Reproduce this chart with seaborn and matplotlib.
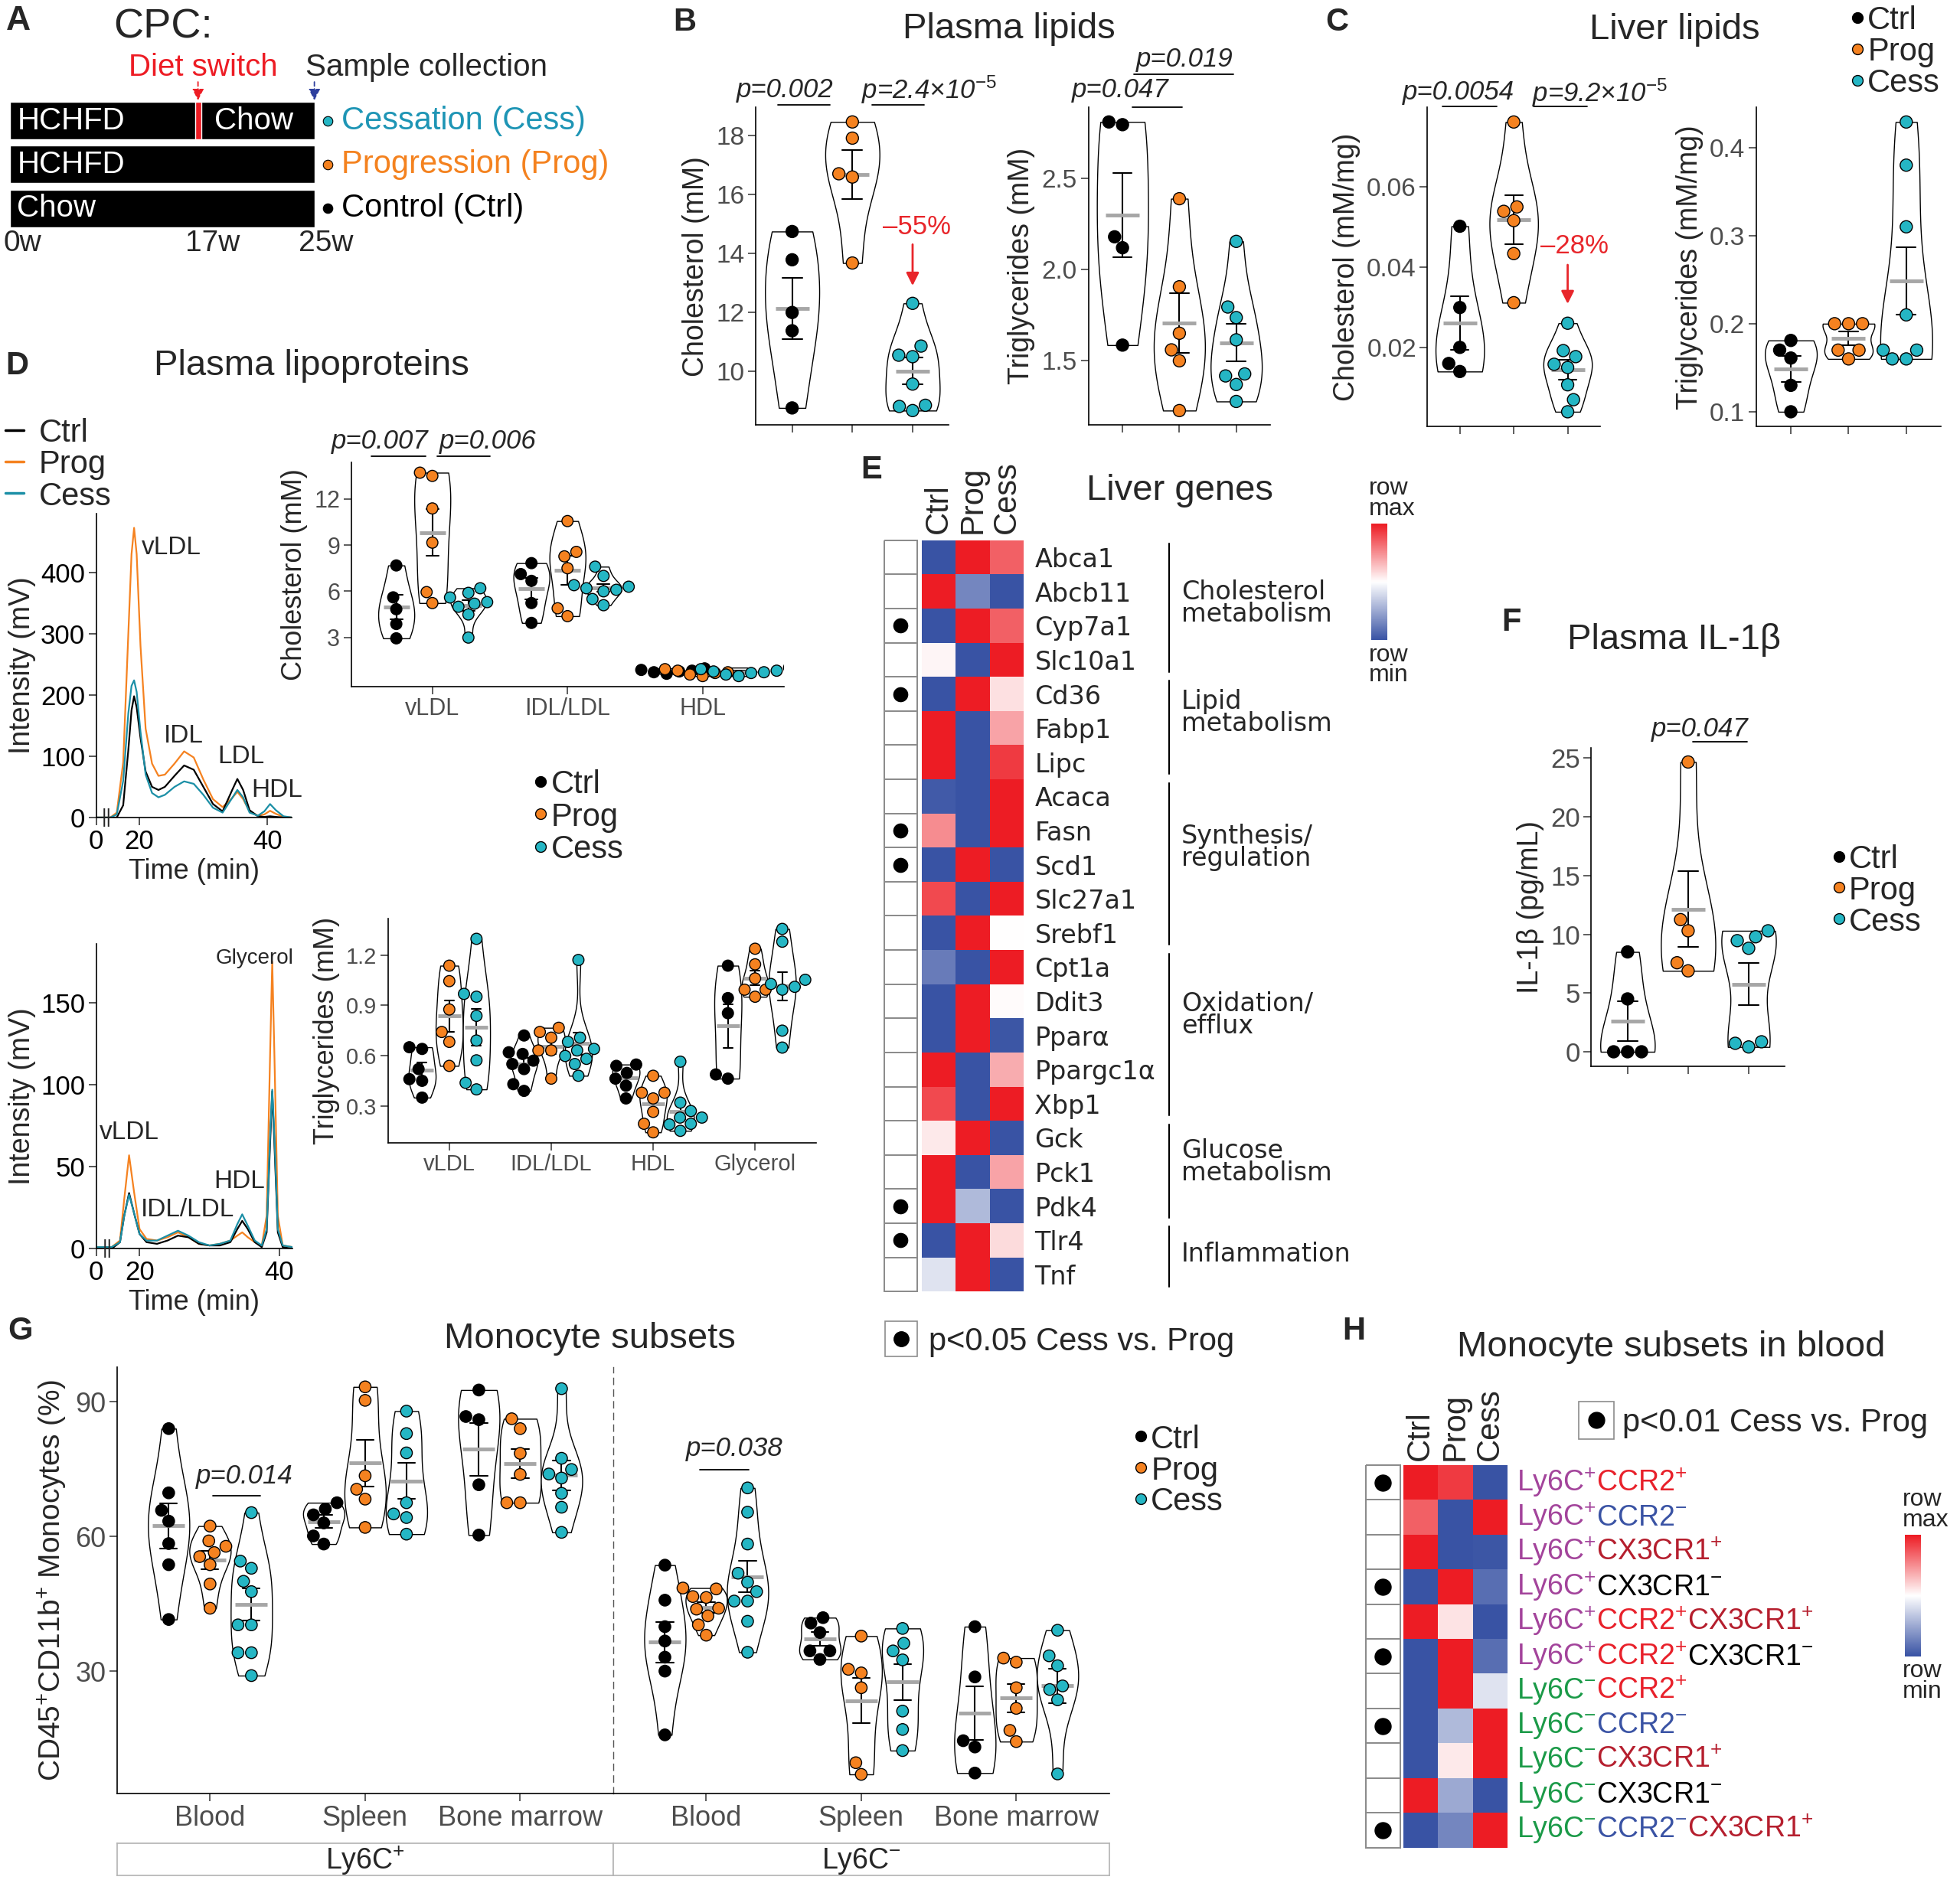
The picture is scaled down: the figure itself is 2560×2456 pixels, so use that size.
import warnings
import numpy as np
import pandas as pd
import seaborn as sns
import matplotlib
matplotlib.use("Agg")
from matplotlib import pyplot as plt
from matplotlib.colors import LinearSegmentedColormap, ListedColormap
from matplotlib.lines import Line2D
from matplotlib.patches import Rectangle
from matplotlib.offsetbox import TextArea, HPacker, AnnotationBbox
import matplotlib.transforms as mtransforms

warnings.filterwarnings("ignore")

### DATA

groups = ["Ctrl", "Prog", "Cess"]
group_colors = ["#000000", "#F58220", "#25B6C4"]
line_colors = {"Ctrl": "#000000", "Prog": "#F58220", "Cess": "#1B8FA6"}

# A - study design
a_rows = ["Cessation (Cess)", "Progression (Prog)", "Control (Ctrl)"]
a_text_colors = ["#1E95B5", "#F4821F", "#000000"]
a_dot_colors = ["#25B6C4", "#F58220", "#000000"]
a_diet_first = ["HCHFD", "HCHFD", "Chow"]
a_diet_second = ["Chow", "", ""]
a_bar_weeks = [25, 25, 25]
a_switch_week = 15.45
a_week_labels = ["0w", "17w", "25w"]
a_week_label_pos = [-0.5, 14.4, 23.7]

# B - plasma lipids
b_chol_ctrl = [14.74, 13.78, 11.99, 11.37, 8.75]
b_chol_prog = [18.46, 17.91, 16.59, 16.70, 13.67]
b_chol_cess = [12.30, 10.85, 10.54, 10.49, 9.56, 8.80, 8.84, 8.66]
b_tg_ctrl = [2.795, 2.81, 2.18, 2.12, 1.586]
b_tg_prog = [2.389, 1.906, 1.651, 1.560, 1.50, 1.227]
b_tg_cess = [2.155, 1.795, 1.737, 1.615, 1.428, 1.417, 1.37, 1.277]

# C - liver lipids
c_chol_ctrl = [0.0502, 0.0300, 0.0201, 0.0161, 0.0141]
c_chol_prog = [0.0761, 0.0550, 0.0539, 0.0516, 0.0434, 0.0312]
c_chol_cess = [0.0261, 0.0193, 0.0178, 0.0159, 0.0151, 0.0108, 0.0071, 0.0041]
c_tg_ctrl = [0.181, 0.170, 0.161, 0.130, 0.100]
c_tg_prog = [0.200, 0.200, 0.200, 0.170, 0.170, 0.160]
c_tg_cess = [0.429, 0.380, 0.310, 0.210, 0.170, 0.170, 0.160, 0.160]

# D - lipoprotein profiles (FPLC)
d_chol_time = [13.3, 15.5, 16.5, 17.5, 18.3, 18.8, 19.2, 19.6, 20.2, 21.0, 22.0, 23.0, 24.0, 25.5, 27.0,
               28.5, 30.0, 31.5, 33.0, 34.5, 35.3, 36.2, 37.2, 38.5, 39.5, 40.4, 41.3, 42.5, 43.8]
d_chol_trace_ctrl = [0, 0, 0, 20, 110, 175, 198, 180, 130, 75, 50, 45, 50, 68, 85,
                     78, 50, 22, 10, 45, 63, 45, 12, 2, 1, 2, 1, 0, 0]
d_chol_trace_prog = [0, 0, 8, 90, 300, 430, 473, 430, 280, 145, 88, 68, 70, 88, 108,
                     98, 62, 30, 17, 32, 42, 30, 10, 3, 5, 11, 6, 1, 0]
d_chol_trace_cess = [0, 0, 5, 60, 170, 215, 224, 205, 140, 70, 40, 33, 37, 50, 59,
                     55, 37, 16, 8, 32, 45, 33, 8, 3, 10, 22, 12, 2, 0]
d_tg_time = [13.8, 16.0, 17.2, 17.8, 18.5, 19.2, 20.0, 21.0, 22.5, 24.0, 25.5, 27.0, 28.5, 30.0,
             31.5, 33.0, 34.0, 34.7, 35.5, 36.5, 37.5, 38.2, 38.7, 39.0, 39.3, 39.8, 40.5, 41.9]
d_tg_trace_ctrl = [0, 0, 4, 20, 34, 22, 9, 4, 3, 5, 8, 7, 3, 2, 2, 4, 12, 17, 12, 4, 1, 10, 65, 96, 65, 10, 1, 0]
d_tg_trace_prog = [1, 1, 5, 30, 57, 35, 12, 6, 5, 7, 10, 7, 3, 2, 3, 5, 8, 10, 7, 4, 2, 20, 120, 175, 120, 20, 2, 1]
d_tg_trace_cess = [1, 1, 4, 20, 33, 22, 9, 5, 5, 8, 11, 8, 4, 2, 3, 5, 15, 21, 14, 5, 2, 12, 70, 97, 70, 12, 2, 1]

d_chol_fractions = ["vLDL", "IDL/LDL", "HDL"]
d_chol_vldl = {"Ctrl": [7.68, 5.61, 4.84, 3.88, 2.95],
               "Prog": [13.7, 13.49, 11.38, 9.16, 5.95, 5.24],
               "Cess": [6.2, 5.9, 5.6, 5.3, 5.2, 5.0, 4.5, 3.0]}
d_chol_idl = {"Ctrl": [7.83, 7.12, 6.68, 5.24, 3.95],
              "Prog": [10.56, 8.27, 8.56, 7.5, 4.9, 4.39],
              "Cess": [7.6, 7.0, 6.4, 6.3, 6.2, 6.1, 6.0, 5.5, 5.1]}
d_chol_hdl = {"Ctrl": [1.0, 0.9, 0.85, 0.8, 0.75, 0.65],
              "Prog": [0.95, 0.85, 0.75, 0.7, 0.6, 0.5],
              "Cess": [1.05, 0.95, 0.85, 0.8, 0.75, 0.7, 0.6, 0.5]}

d_tg_fractions = ["vLDL", "IDL/LDL", "HDL", "Glycerol"]
d_tg_vldl = {"Ctrl": [0.64, 0.65, 0.52, 0.46, 0.45, 0.35],
             "Prog": [1.136, 1.044, 0.875, 0.682, 0.741, 0.539],
             "Cess": [1.296, 0.951, 0.968, 0.837, 0.69, 0.572, 0.438, 0.399]}
d_tg_idl = {"Ctrl": [0.72, 0.62, 0.61, 0.57, 0.55, 0.52, 0.43, 0.39],
            "Prog": [0.766, 0.741, 0.707, 0.631, 0.631, 0.463],
            "Cess": [1.17, 0.707, 0.682, 0.64, 0.631, 0.598, 0.581, 0.55, 0.48]}
d_tg_hdl = {"Ctrl": [0.539, 0.547, 0.497, 0.463, 0.421, 0.345],
            "Prog": [0.48, 0.379, 0.379, 0.345, 0.265, 0.194, 0.143],
            "Cess": [0.564, 0.32, 0.27, 0.231, 0.231, 0.194, 0.19, 0.152]}
d_tg_glycerol = {"Ctrl": [1.136, 0.943, 0.853, 0.488, 0.463],
                 "Prog": [1.237, 1.144, 1.06, 0.993, 0.993, 0.951],
                 "Cess": [1.355, 1.279, 1.027, 1.052, 1.01, 0.993, 0.749, 0.648]}

# E - liver genes (row scaled, 0 = row min, 1 = row max)
e_genes = ["Abca1", "Abcb11", "Cyp7a1", "Slc10a1", "Cd36", "Fabp1", "Lipc", "Acaca", "Fasn", "Scd1",
           "Slc27a1", "Srebf1", "Cpt1a", "Ddit3", "Pparα", "Ppargc1α", "Xbp1", "Gck", "Pck1", "Pdk4",
           "Tlr4", "Tnf"]
e_ctrl = [0.0, 1.0, 0.0, 0.52, 0.0, 1.0, 1.0, 0.02, 0.75, 0.0, 0.9, 0.0, 0.12, 0.0, 0.0, 1.0, 0.9,
          0.55, 1.0, 1.0, 0.0, 0.42]
e_prog = [1.0, 0.15, 1.0, 0.0, 1.0, 0.0, 0.0, 0.0, 0.0, 1.0, 0.0, 1.0, 0.0, 1.0, 1.0, 0.0, 0.0,
          1.0, 0.0, 0.3, 1.0, 1.0]
e_cess = [0.85, 0.0, 0.85, 1.0, 0.57, 0.7, 0.93, 1.0, 1.0, 0.0, 1.0, 0.5, 1.0, 0.51, 0.01, 0.68, 1.0,
          0.0, 0.7, 0.0, 0.58, 0.0]
e_sig = [0, 0, 1, 0, 1, 0, 0, 0, 1, 1, 0, 0, 0, 0, 0, 0, 0, 0, 0, 1, 1, 0]
e_group_names = ["Cholesterol\nmetabolism", "Lipid\nmetabolism", "Synthesis/\nregulation",
                 "Oxidation/\nefflux", "Glucose\nmetabolism", "Inflammation"]
e_group_first = [0, 4, 7, 12, 17, 20]
e_group_last = [3, 6, 11, 16, 19, 21]
e_group_label_row = [1.85, 5.05, 9.0, 13.9, 18.2, 20.9]

# F - plasma IL-1b
f_ctrl = [8.5, 4.5, 0.0, 0.0, 0.0]
f_prog = [24.67, 11.25, 10.3, 7.58, 6.89]
f_cess = [10.3, 9.79, 9.46, 8.81, 0.72, 0.41, 0.85]

# G - monocyte subsets
g_tissues = ["Blood", "Spleen", "Bone marrow"]
g_pos_blood = {"Ctrl": [84.0, 69.7, 65.8, 63.4, 58.4, 53.7, 41.5],
               "Prog": [62.3, 59.0, 57.8, 56.4, 55.5, 53.7, 49.4, 44.0],
               "Cess": [65.3, 54.5, 52.9, 50.0, 47.7, 40.3, 40.3, 34.1, 34.1, 29.0]}
g_pos_spleen = {"Ctrl": [67.5, 66.1, 64.8, 63.0, 60.1, 58.3],
                "Prog": [93.3, 90.3, 73.5, 70.5, 68.3, 62.0],
                "Cess": [87.9, 82.9, 78.6, 67.5, 64.2, 65.0, 60.5]}
g_pos_bm = {"Ctrl": [92.6, 86.7, 86.0, 71.5, 60.3],
            "Prog": [86.2, 84.0, 78.5, 73.8, 67.5, 67.5],
            "Cess": [92.9, 77.4, 74.9, 73.0, 73.9, 69.6, 66.5, 60.9]}
g_neg_blood = {"Ctrl": [53.6, 45.8, 39.9, 36.7, 33.1, 30.0, 15.8],
               "Prog": [48.5, 48.3, 46.6, 46.4, 44.0, 43.8, 42.3, 40.3, 38.0],
               "Cess": [70.8, 65.4, 58.3, 51.8, 49.8, 47.7, 45.6, 45.6, 41.1, 34.2]}
g_neg_spleen = {"Ctrl": [41.9, 40.7, 38.6, 34.5, 34.5, 32.6],
                "Prog": [37.8, 30.4, 29.6, 26.3, 9.6, 7.0],
                "Cess": [39.5, 36.2, 34.5, 32.5, 21.1, 17.0, 12.3]}
g_neg_bm = {"Ctrl": [39.9, 28.7, 14.5, 13.1, 7.3],
            "Prog": [32.9, 32.0, 26.3, 21.7, 16.8, 14.3],
            "Cess": [39.1, 33.4, 31.2, 26.7, 25.9, 23.6, 7.1]}

# H - monocyte subsets in blood (row scaled)
h_ctrl = [1.0, 0.85, 1.0, 0.0, 1.0, 0.0, 0.0, 0.0, 0.0, 1.0, 0.0]
h_prog = [0.93, 0.0, 0.0, 1.0, 0.56, 1.0, 1.0, 0.3, 0.55, 0.25, 0.15]
h_cess = [0.0, 1.0, 0.01, 0.08, 0.0, 0.08, 0.42, 1.0, 1.0, 0.0, 1.0]
h_sig = [1, 0, 0, 1, 0, 1, 0, 1, 0, 0, 1]
PUR, RED, BLU, DRD, BLK, GRN = "#A3449B", "#E8212B", "#3A53A4", "#B51F2E", "#000000", "#1B9A48"
h_labels = [
    [("Ly6C", "+", PUR), ("CCR2", "+", RED)],
    [("Ly6C", "+", PUR), ("CCR2", "-", BLU)],
    [("Ly6C", "+", PUR), ("CX3CR1", "+", DRD)],
    [("Ly6C", "+", PUR), ("CX3CR1", "-", BLK)],
    [("Ly6C", "+", PUR), ("CCR2", "+", RED), ("CX3CR1", "+", DRD)],
    [("Ly6C", "+", PUR), ("CCR2", "+", RED), ("CX3CR1", "-", BLK)],
    [("Ly6C", "-", GRN), ("CCR2", "+", RED)],
    [("Ly6C", "-", GRN), ("CCR2", "-", BLU)],
    [("Ly6C", "-", GRN), ("CX3CR1", "+", DRD)],
    [("Ly6C", "-", GRN), ("CX3CR1", "-", BLK)],
    [("Ly6C", "-", GRN), ("CCR2", "-", BLU), ("CX3CR1", "+", DRD)],
]

### STYLE

sns.set_style("ticks")
plt.rcParams["font.family"] = ["Liberation Sans", "DejaVu Sans"]
plt.rcParams["mathtext.fontset"] = "custom"
plt.rcParams["mathtext.rm"] = "Liberation Sans"
plt.rcParams["mathtext.it"] = "Liberation Sans:italic"
plt.rcParams["mathtext.bf"] = "Liberation Sans:bold"
plt.rcParams["axes.linewidth"] = 1.2
plt.rcParams["axes.edgecolor"] = "black"

heat_cmap = LinearSegmentedColormap.from_list("rowscale", ["#3953A4", "#FFFFFF", "#ED1C24"])
TICK_GRAY = "#4D4D4D"
MEAN_GRAY = "#A6A6A6"
WIDE = ["DejaVu Sans"]

W, H = 1568.0, 1504.0  # layout units of the reference
fig = plt.figure(figsize=(25.6, 24.56), dpi=100)


def box(x0, y0, x1, y1):
    return [x0 / W, 1 - y1 / H, (x1 - x0) / W, (y1 - y0) / H]


def ftext(x, y, s, **kw):
    kw.setdefault("ha", "center")
    kw.setdefault("va", "center")
    fig.text(x / W, 1 - y / H, s, **kw)


def underline(x0, x1, y):
    fig.add_artist(Line2D([x0 / W, x1 / W], [1 - y / H, 1 - y / H], color="black", lw=1.3))


def dot_legend(x, y0, step=25.5, size=10, fs=30):
    for i, (g, c) in enumerate(zip(groups, group_colors)):
        y = y0 + i * step
        fig.add_artist(Line2D([x / W], [1 - y / H], marker="o", markersize=size, markerfacecolor=c,
                              markeredgecolor="black", markeredgewidth=1, linestyle="none"))
        ftext(x + 8, y, g, ha="left", va="center_baseline", fontsize=fs)


def expand(vals, frac=0.05):
    lo, hi = min(vals), max(vals)
    return lo - frac * (hi - lo), hi + frac * (hi - lo)


def finish(ax, vals, ylabel, yticks, fmt, n, xlabels=None, tick_size=24, label_size=27):
    ax.set_ylim(*expand(vals))
    ax.set_xlim(-0.6, n - 0.4)
    ax.set_xticks(range(n), xlabels if xlabels else [""] * n)
    ax.set_yticks(yticks, [fmt.format(v) for v in yticks])
    ax.set_xlabel("")
    ax.set_ylabel(ylabel, fontsize=label_size, labelpad=6)
    ax.tick_params(labelsize=tick_size, labelcolor=TICK_GRAY, color="#333333", length=7, width=1.1)
    sns.despine(ax=ax)


def violin_simple(ax, vals, ylabel, yticks, fmt, cap=0.33, dot=11.5, mean_size=32):
    df = pd.DataFrame({"group": [g for g in groups for _ in vals[g]],
                       "value": [v for g in groups for v in vals[g]]})
    sns.violinplot(data=df, x="group", y="value", order=groups, color="white", saturation=1,
                   linecolor="black", linewidth=1.0, cut=0, inner=None, density_norm="width",
                   width=0.9, ax=ax)
    sns.swarmplot(data=df, x="group", y="value", hue="group", order=groups, hue_order=groups,
                  palette=group_colors, size=dot, edgecolor="black", linewidth=1, legend=False, ax=ax)
    sns.pointplot(data=df, x="group", y="value", order=groups, errorbar="se", capsize=cap,
                  color="black", marker="", linestyle="none",
                  err_kws={"linewidth": 1.5, "color": "black", "linestyle": "-"}, ax=ax)
    sns.pointplot(data=df, x="group", y="value", order=groups, errorbar=None, color=MEAN_GRAY,
                  marker="_", markersize=mean_size, markeredgewidth=3.5, linestyle="none", ax=ax)
    finish(ax, df["value"], ylabel, yticks, fmt, 3)


def grouped_frame(cats, tables):
    rows = [(c, g, v) for c, t in zip(cats, tables) for g in groups for v in t[g]]
    return pd.DataFrame(rows, columns=["cat", "group", "value"])


def violin_grouped(ax, df, cats, cap=0.11, dot=11.5, mean_size=26):
    sns.violinplot(data=df, x="cat", y="value", hue="group", order=cats, hue_order=groups,
                   palette=["white"] * 3, saturation=1, linecolor="black", linewidth=1.0, cut=0,
                   inner=None, density_norm="width", width=0.8, dodge=True, legend=False, ax=ax)
    sns.swarmplot(data=df, x="cat", y="value", hue="group", order=cats, hue_order=groups,
                  palette=group_colors, dodge=True, size=dot, edgecolor="black", linewidth=1,
                  legend=False, ax=ax)
    sns.pointplot(data=df, x="cat", y="value", hue="group", order=cats, hue_order=groups,
                  palette=["black"] * 3, dodge=0.5333, errorbar="se", capsize=cap, marker="",
                  linestyle="none", err_kws={"linewidth": 1.5, "color": "black", "linestyle": "-"},
                  legend=False, ax=ax)
    sns.pointplot(data=df, x="cat", y="value", hue="group", order=cats, hue_order=groups,
                  palette=[MEAN_GRAY] * 3, dodge=0.5333, errorbar=None, marker="_",
                  markersize=mean_size, markeredgewidth=3.5, linestyle="none", legend=False, ax=ax)


def trace_frame(time, ctrl, prog, cess):
    return pd.DataFrame({"time": list(time) * 3, "intensity": ctrl + prog + cess,
                         "group": ["Ctrl"] * len(time) + ["Prog"] * len(time) + ["Cess"] * len(time)})


### PANEL A

ftext(14.7, 17, "A", fontsize=32, weight="bold")
ftext(90.6, 21.5, "CPC:", ha="left", fontsize=39)
axA = fig.add_axes(box(7.8, 78.9, 251.5, 184.2))
sns.barplot(x=a_bar_weeks, y=a_rows, orient="h", color="black", saturation=1, width=0.855, ax=axA)
axA.barh(0, 0.5, left=a_switch_week - 0.25, height=0.855, color="#ED1C24")
axA.set_xlim(0, 25)
axA.set_ylim(2.5, -0.5)
axA.set_axis_off()
for i in range(3):
    axA.text(0.6, i, a_diet_first[i], color="white", va="center", fontsize=29)
    axA.text(16.8, i, a_diet_second[i], color="white", va="center", fontsize=29)
    axA.plot([26.1], [i], marker="o", markersize=9, markerfacecolor=a_dot_colors[i],
             markeredgecolor="black", markeredgewidth=0.8, clip_on=False)
    axA.text(27.2, i, a_rows[i], color=a_text_colors[i], va="center", fontsize=30, clip_on=False)
for lab, pos in zip(a_week_labels, a_week_label_pos):
    axA.text(pos, 2.8, lab, ha="left", va="center", fontsize=28, clip_on=False)
axA.text(15.9, -1.21, "Diet switch", color="#ED1C24", ha="center", va="center", fontsize=29)
axA.text(24.3, -1.21, "Sample collection", ha="left", va="center", fontsize=29)
for wk, col in zip([a_switch_week, 25], ["#ED1C24", "#2E3F9E"]):
    axA.annotate("", xy=(wk, -0.46), xytext=(wk, -0.88),
                 arrowprops=dict(arrowstyle="-|>", color=col, lw=1.3, linestyle=(0, (3, 2)),
                                 mutation_scale=22, shrinkA=0, shrinkB=0), annotation_clip=False)

### PANEL B

ftext(547.7, 18, "B", fontsize=30, weight="bold")
ftext(807.5, 23, "Plasma lipids", fontsize=34)
axB1 = fig.add_axes(box(604.8, 86, 759, 340))
violin_simple(axB1, {"Ctrl": b_chol_ctrl, "Prog": b_chol_prog, "Cess": b_chol_cess},
              "Cholesterol (mM)", [10, 12, 14, 16, 18], "{:.0f}")
axB1.text(2.07, 14.9, "–55%", color="#E8262B", ha="center", va="center", fontsize=25)
axB1.annotate("", xy=(2.0, 12.9), xytext=(2.0, 14.3),
              arrowprops=dict(arrowstyle="-|>", color="#E8262B", lw=2, mutation_scale=25,
                              shrinkA=0, shrinkB=0))
axB2 = fig.add_axes(box(870.7, 86, 1016.3, 340))
violin_simple(axB2, {"Ctrl": b_tg_ctrl, "Prog": b_tg_prog, "Cess": b_tg_cess},
              "Triglycerides (mM)", [1.5, 2.0, 2.5], "{:.1f}")

### PANEL C

ftext(1069.6, 18, "C", fontsize=30, weight="bold")
ftext(1339.5, 24, "Liver lipids", fontsize=34)
dot_legend(1486, 14, step=25)
axC1 = fig.add_axes(box(1142, 86, 1280, 341))
violin_simple(axC1, {"Ctrl": c_chol_ctrl, "Prog": c_chol_prog, "Cess": c_chol_cess},
              "Cholesterol (mM/mg)", [0.02, 0.04, 0.06], "{:.2f}")
axC1.text(2.12, 0.0452, "–28%", color="#E8262B", ha="center", va="center", fontsize=25)
axC1.annotate("", xy=(2.0, 0.0309), xytext=(2.0, 0.0406),
              arrowprops=dict(arrowstyle="-|>", color="#E8262B", lw=2, mutation_scale=25,
                              shrinkA=0, shrinkB=0))
axC2 = fig.add_axes(box(1405, 86, 1552.7, 341))
violin_simple(axC2, {"Ctrl": c_tg_ctrl, "Prog": c_tg_prog, "Cess": c_tg_cess},
              "Triglycerides (mM/mg)", [0.1, 0.2, 0.3, 0.4], "{:.1f}")

# p-values for all panels
pvals = [
    ("p=0.002", 628, 72, 622, 664, 84),
    ("p=2.4×10$^{\\mathit{-5}}$", 743, 72, 697.5, 739, 84),
    ("p=0.019", 947.5, 47.5, 907, 987, 59.5),
    ("p=0.047", 896, 72, 906, 946, 85.5),
    ("p=0.0054", 1167, 74, 1154, 1197.6, 85.3),
    ("p=9.2×10$^{\\mathit{-5}}$", 1280, 74, 1226.6, 1269.5, 85.3),
    ("p=0.007", 304, 353, 297, 340.6, 365),
    ("p=0.006", 390.6, 353, 350, 392, 365),
    ("p=0.047", 1360, 583, 1354, 1398, 593.5),
    ("p=0.014", 195.6, 1181, 170, 208, 1196.6),
    ("p=0.038", 587.7, 1159, 560, 599, 1176),
]
for s, cx, cy, u0, u1, uy in pvals:
    ftext(cx, cy, s, fontsize=25, style="italic")
    underline(u0, u1, uy)

### PANEL D

ftext(13.7, 293, "D", fontsize=30, weight="bold")
ftext(249, 293, "Plasma lipoproteins", fontsize=34)
for i, g in enumerate(groups):
    y = 344 + i * 25.2
    fig.add_artist(Line2D([4 / W, 19 / W], [1 - y / H] * 2, color=line_colors[g], lw=2.5))
    ftext(31, y, g, ha="left", va="center_baseline", fontsize=30)


def chromatogram(ax, df, xlim, ylim, yticks):
    sns.lineplot(data=df, x="time", y="intensity", hue="group", hue_order=["Prog", "Ctrl", "Cess"],
                 palette=line_colors, estimator=None, linewidth=1.6, legend=False, ax=ax)
    ax.set_xlim(*xlim)
    ax.set_ylim(*ylim)
    ax.set_xticks([xlim[0], 20, 40], ["0", "20", "40"])
    ax.set_yticks(yticks, [str(v) for v in yticks])
    ax.tick_params(labelsize=25, labelcolor="black", length=7, width=1.1)
    ax.set_xlabel("Time (min)", fontsize=26, labelpad=4)
    ax.set_ylabel("Intensity (mV)", fontsize=27, labelpad=4)
    ax.text(xlim[0] + 1.6, 0, "||", ha="center", va="center", fontsize=18, clip_on=False)
    sns.despine(ax=ax)


axD1 = fig.add_axes(box(77, 411, 233.5, 654))
chromatogram(axD1, trace_frame(d_chol_time, d_chol_trace_ctrl, d_chol_trace_prog, d_chol_trace_cess),
             (13.3, 43.8), (0, 496), [0, 100, 200, 300, 400])
for lab, t, v in [("vLDL", 20.4, 430), ("IDL", 23.8, 123), ("LDL", 32.2, 89), ("HDL", 37.5, 33.5)]:
    axD1.text(t, v, lab, ha="left", va="baseline", fontsize=24, clip_on=False)

axD3 = fig.add_axes(box(77, 755, 234, 999))
chromatogram(axD3, trace_frame(d_tg_time, d_tg_trace_ctrl, d_tg_trace_prog, d_tg_trace_cess),
             (13.8, 41.9), (0, 186), [0, 50, 100, 150])
for lab, t, v, fs in [("Glycerol", 30.9, 174, 20), ("vLDL", 14.3, 67, 24),
                      ("IDL/LDL", 20.2, 20, 24), ("HDL", 30.6, 37, 24)]:
    axD3.text(t, v, lab, ha="left", va="baseline", fontsize=fs, clip_on=False)

axD2 = fig.add_axes(box(281, 370, 627, 549))
df_dchol = grouped_frame(d_chol_fractions, [d_chol_vldl, d_chol_idl, d_chol_hdl])
violin_grouped(axD2, df_dchol, d_chol_fractions, cap=0.09, dot=10.5, mean_size=24)
finish(axD2, df_dchol["value"], "Cholesterol (mM)", [3, 6, 9, 12], "{:.0f}", 3,
       xlabels=d_chol_fractions, tick_size=22, label_size=26)
dot_legend(432.7, 625, step=26)

axD4 = fig.add_axes(box(310.5, 735, 653, 914))
df_dtg = grouped_frame(d_tg_fractions, [d_tg_vldl, d_tg_idl, d_tg_hdl, d_tg_glycerol])
violin_grouped(axD4, df_dtg, d_tg_fractions, cap=0.09, dot=10.5, mean_size=22)
finish(axD4, df_dtg["value"], "Triglycerides (mM)", [0.3, 0.6, 0.9, 1.2], "{:.1f}", 4,
       xlabels=d_tg_fractions, tick_size=21, label_size=26)

### PANEL E

ftext(697, 376, "E", fontsize=30, weight="bold")
ftext(943.7, 392.5, "Liver genes", fontsize=34)
axE = fig.add_axes(box(737.2, 432.2, 819.2, 1033.2))
caxE = fig.add_axes(box(1097, 419, 1110, 512))
e_df = pd.DataFrame({"Ctrl": e_ctrl, "Prog": e_prog, "Cess": e_cess}, index=e_genes)
sns.heatmap(e_df, cmap=heat_cmap, vmin=0, vmax=1, ax=axE, cbar_ax=caxE, cbar_kws={"ticks": []})
axE.set_xticks(np.arange(3) + 0.5, groups)
axE.set_yticks(np.arange(len(e_genes)) + 0.5, e_genes, family=WIDE)
axE.tick_params(axis="x", bottom=False, top=False, labelbottom=False, labeltop=True,
                labelsize=30, labelrotation=90, length=0, pad=6)
axE.tick_params(axis="y", left=False, right=False, labelleft=False, labelright=True,
                labelsize=24, labelrotation=0, length=0, pad=10)
axE.set_xlabel("")
axE.set_ylabel("")
trE = mtransforms.blended_transform_factory(axE.transAxes, axE.transData)
for name, first, last, ly in zip(e_group_names, e_group_first, e_group_last, e_group_label_row):
    axE.plot([2.412, 2.412], [first + 0.1, last + 0.85], transform=trE, color="black", lw=1.5,
             clip_on=False)
    axE.text(2.534, ly, name, transform=trE, ha="left", va="center", fontsize=24,
             family=WIDE, linespacing=0.85)
caxE.text(-0.15, 1.03, "row\nmax", transform=caxE.transAxes, ha="left", va="bottom", fontsize=23,
          linespacing=0.85)
caxE.text(-0.15, -0.03, "row\nmin", transform=caxE.transAxes, ha="left", va="top", fontsize=23,
          linespacing=0.85)


def sig_column(ax, sig, dot_area):
    sns.heatmap(np.zeros((len(sig), 1)), cmap=ListedColormap(["white"]), cbar=False,
                linewidths=1.2, linecolor="#8C8C8C", xticklabels=False, yticklabels=False, ax=ax)
    ax.collections[0].set_clip_on(False)
    rows = [i for i, s in enumerate(sig) if s]
    sns.scatterplot(x=[0.5] * len(rows), y=[r + 0.5 for r in rows], color="black", s=dot_area,
                    linewidth=0, legend=False, ax=ax)
    ax.set_xlim(0, 1)
    ax.set_ylim(len(sig), 0)
    ax.set_xlabel("")
    ax.set_ylabel("")


axES = fig.add_axes(box(707.3, 432.2, 733.7, 1033.2))
sig_column(axES, e_sig, 200)

# E legend
fig.add_artist(Rectangle((708 / W, 1 - 1085 / H), 26 / W, 28 / H, facecolor="white",
                         edgecolor="#8C8C8C", lw=1.2))
fig.add_artist(Line2D([721 / W], [1 - 1071 / H], marker="o", markersize=14, color="black",
                      linestyle="none"))
ftext(743, 1073.5, "p<0.05 Cess vs. Prog", ha="left", fontsize=30)

### PANEL F

ftext(1209, 498, "F", fontsize=30, weight="bold")
ftext(1339, 512, "Plasma IL-1β", fontsize=34)
axF = fig.add_axes(box(1273, 598, 1428, 853))
violin_simple(axF, {"Ctrl": f_ctrl, "Prog": f_prog, "Cess": f_cess},
              "IL-1β (pg/mL)", [0, 5, 10, 15, 20, 25], "{:.0f}")
axF.tick_params(labelsize=25)
dot_legend(1471, 685, step=25)

### PANEL G

ftext(16, 1065, "G", fontsize=30, weight="bold")
ftext(472, 1071, "Monocyte subsets", fontsize=34)
df_gpos = grouped_frame(g_tissues, [g_pos_blood, g_pos_spleen, g_pos_bm])
df_gneg = grouped_frame(g_tissues, [g_neg_blood, g_neg_spleen, g_neg_bm])
g_all = list(df_gpos["value"]) + list(df_gneg["value"])
axG1 = fig.add_axes(box(93.6, 1094, 490.6, 1435))
axG2 = fig.add_axes(box(490.6, 1094, 887.4, 1435))
violin_grouped(axG1, df_gpos, g_tissues, cap=0.11, dot=11, mean_size=30)
finish(axG1, g_all, "CD45$^{+}$CD11b$^{+}$ Monocytes (%)", [30, 60, 90], "{:.0f}", 3,
       xlabels=g_tissues, tick_size=26, label_size=28)
violin_grouped(axG2, df_gneg, g_tissues, cap=0.11, dot=11, mean_size=30)
finish(axG2, g_all, "", [30, 60, 90], "{:.0f}", 3, xlabels=g_tissues, tick_size=26)
axG2.tick_params(axis="y", left=False, labelleft=False)
axG2.spines["left"].set_linestyle((0, (6, 5)))
axG2.spines["left"].set_color("#555555")
axG2.spines["left"].set_linewidth(1.0)
axG2.patch.set_alpha(0)
for ax_, lab in [(axG1, "Ly6C$^{+}$"), (axG2, "Ly6C$^{-}$")]:
    pos = ax_.get_position()
    strip = fig.add_axes([pos.x0, 1 - 1500.3 / H, pos.width, 25.7 / H])
    strip.set_xticks([])
    strip.set_yticks([])
    for sp in strip.spines.values():
        sp.set_color("#B3B3B3")
        sp.set_linewidth(1.2)
    strip.text(0.5, 0.45, lab, ha="center", va="center", fontsize=27, transform=strip.transAxes)
dot_legend(912.8, 1149, step=25)

### PANEL H

ftext(1083, 1065, "H", fontsize=30, weight="bold")
ftext(1337, 1078, "Monocyte subsets in blood", fontsize=34)
axH = fig.add_axes(box(1122.5, 1172, 1206, 1478))
caxH = fig.add_axes(box(1524, 1228, 1537, 1325))
h_df = pd.DataFrame({"Ctrl": h_ctrl, "Prog": h_prog, "Cess": h_cess})
sns.heatmap(h_df, cmap=heat_cmap, vmin=0, vmax=1, ax=axH, cbar_ax=caxH, cbar_kws={"ticks": []},
            yticklabels=False)
axH.set_xticks(np.arange(3) + 0.5, groups)
axH.tick_params(axis="x", bottom=False, top=False, labelbottom=False, labeltop=True,
                labelsize=30, labelrotation=90, length=0, pad=4)
axH.tick_params(axis="y", left=False, labelleft=False)
axH.set_xlabel("")
axH.set_ylabel("")
trH = mtransforms.blended_transform_factory(axH.transAxes, axH.transData)
for i, pieces in enumerate(h_labels):
    parts = [TextArea(name + "$^{" + sign + "}$", textprops=dict(color=col, fontsize=27))
             for name, sign, col in pieces]
    packed = HPacker(children=parts, align="baseline", pad=0, sep=0)
    ab = AnnotationBbox(packed, (1.0, i + 0.5), xycoords=trH, xybox=(9, 0),
                        boxcoords="offset points", box_alignment=(0, 0.5), frameon=False, pad=0,
                        annotation_clip=False)
    axH.add_artist(ab)
caxH.text(-0.15, 1.03, "row\nmax", transform=caxH.transAxes, ha="left", va="bottom", fontsize=23,
          linespacing=0.85)
caxH.text(-0.15, -0.03, "row\nmin", transform=caxH.transAxes, ha="left", va="top", fontsize=23,
          linespacing=0.85)
axHS = fig.add_axes(box(1092.5, 1172, 1120, 1478))
sig_column(axHS, h_sig, 260)
fig.add_artist(Rectangle((1263 / W, 1 - 1151 / H), 28 / W, 30 / H, facecolor="white",
                         edgecolor="#8C8C8C", lw=1.2))
fig.add_artist(Line2D([1277 / W], [1 - 1136 / H], marker="o", markersize=15, color="black",
                      linestyle="none"))
ftext(1297.6, 1138.6, "p<0.01 Cess vs. Prog", ha="left", fontsize=30)

fig.savefig("out.png", dpi=100, facecolor="white")
